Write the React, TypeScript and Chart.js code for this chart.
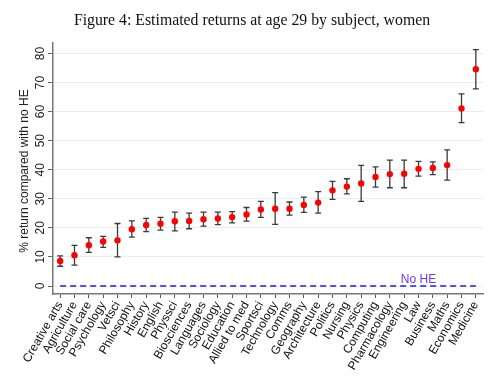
import React, { useEffect, useRef } from "react";
import { Chart, registerables } from "chart.js";

Chart.register(...registerables);

const categories = [
  "Creative arts", "Agriculture", "Social care", "Psychology", "Vetsci", "Philosophy",
  "History", "English", "Physsci", "Biosciences", "Languages", "Sociology", "Education",
  "Allied to med", "Sportsci", "Technology", "Comms", "Geography", "Architecture",
  "Politics", "Nursing", "Physics", "Computing", "Pharmacology", "Engineering", "Law",
  "Business", "Maths", "Economics", "Medicine",
];
const estimates = [8.6, 10.6, 14.0, 15.3, 15.7, 19.5, 21.0, 21.4, 22.3, 22.4, 23.0, 23.2, 23.7, 24.6, 26.3, 26.6, 26.6, 27.9, 28.7, 32.9, 34.2, 35.3, 37.5, 38.5, 38.6, 40.3, 40.6, 41.6, 61.1, 74.6];
const lower = [6.8, 7.2, 11.6, 13.3, 10.0, 16.8, 18.7, 19.2, 19.0, 19.7, 20.6, 21.1, 21.7, 22.3, 23.6, 21.2, 24.4, 25.3, 25.1, 29.8, 31.7, 29.1, 34.0, 33.8, 33.8, 37.8, 38.3, 36.4, 56.2, 67.8];
const upper = [10.4, 14.0, 16.6, 17.1, 21.5, 22.4, 23.3, 23.6, 25.4, 25.1, 25.4, 25.4, 25.6, 27.0, 29.1, 32.1, 28.9, 30.6, 32.5, 36.0, 36.9, 41.5, 41.0, 43.3, 43.3, 42.9, 42.7, 46.8, 66.1, 81.3];
const baseline = categories.map(() => 0);
const yTicks = [0, 10, 20, 30, 40, 50, 60, 70, 80];
const titleText = "Figure 4: Estimated returns at age 29 by subject, women";
const yTitle = "% return compared with no HE";
const baselineLabel = "No HE";
const baselineLabelCategory = "Law";

const SANS = "'Liberation Sans', Arial, sans-serif";

const customPlugin = {
  id: "custom",
  beforeDatasetsDraw(chart: any) {
    const ctx = chart.ctx;
    const x = chart.scales.x;
    const y = chart.scales.y;
    ctx.save();
    ctx.strokeStyle = "#3a3a3a";
    ctx.lineWidth = 1.3;
    const cap = 3;
    categories.forEach((c, i) => {
      const px = x.getPixelForValue(i);
      const yl = y.getPixelForValue(lower[i]);
      const yh = y.getPixelForValue(upper[i]);
      ctx.beginPath();
      ctx.moveTo(px, yl);
      ctx.lineTo(px, yh);
      ctx.moveTo(px - cap, yl);
      ctx.lineTo(px + cap, yl);
      ctx.moveTo(px - cap, yh);
      ctx.lineTo(px + cap, yh);
      ctx.stroke();
    });
    ctx.restore();
  },
  afterDraw(chart: any) {
    const ctx = chart.ctx;
    const x = chart.scales.x;
    const y = chart.scales.y;
    ctx.save();
    // title
    ctx.fillStyle = "#111";
    ctx.font = "15.8px 'Liberation Serif', 'Times New Roman', serif";
    ctx.textAlign = "center";
    ctx.textBaseline = "alphabetic";
    ctx.fillText(titleText, 252, 25);
    // y tick labels rotated
    ctx.font = "12px " + SANS;
    ctx.fillStyle = "#222";
    yTicks.forEach((v) => {
      const py = y.getPixelForValue(v);
      ctx.save();
      ctx.translate(44, py);
      ctx.rotate(-Math.PI / 2);
      ctx.textAlign = "center";
      ctx.textBaseline = "alphabetic";
      ctx.fillText(String(v), 0, 0);
      ctx.restore();
    });
    // y title
    ctx.save();
    ctx.font = "12px " + SANS;
    ctx.translate(28, (y.top + y.bottom) / 2 + 2.5);
    ctx.rotate(-Math.PI / 2);
    ctx.textAlign = "center";
    ctx.textBaseline = "alphabetic";
    ctx.fillText(yTitle, 0, 0);
    ctx.restore();
    // No HE label
    const li = categories.indexOf(baselineLabelCategory);
    ctx.font = "12px " + SANS;
    ctx.fillStyle = "#6a3cf0";
    ctx.textAlign = "center";
    ctx.textBaseline = "alphabetic";
    ctx.fillText(baselineLabel, x.getPixelForValue(li), y.getPixelForValue(0) - 3);
    ctx.restore();
  },
};

export default function App() {
  const ref = useRef<HTMLCanvasElement>(null);
  useEffect(() => {
    document.body.style.margin = "0";
    const chart = new Chart(ref.current as HTMLCanvasElement, {
      type: "line",
      data: {
        labels: categories,
        datasets: [
          {
            data: baseline,
            borderColor: "#1a1aff",
            borderWidth: 1.5,
            borderDash: [6, 4],
            pointRadius: 0,
            fill: false,
          },
          {
            data: estimates,
            showLine: false,
            pointRadius: 3.2,
            pointBackgroundColor: "#ff0000",
            pointBorderColor: "#ff0000",
            pointBorderWidth: 0,
          },
        ],
      },
      options: {
        responsive: false,
        animation: false,
        layout: { padding: { top: 43, right: 17, left: 0, bottom: 0 } },
        plugins: { legend: { display: false }, tooltip: { enabled: false }, title: { display: false } },
        scales: {
          x: {
            type: "category",
            offset: true,
            grid: { display: true, drawOnChartArea: false, drawTicks: true, tickLength: 4, color: "#555" },
            border: { display: true, color: "#777", width: 1.5 },
            ticks: {
              autoSkip: false,
              minRotation: 60,
              maxRotation: 60,
              padding: 1,
              color: "#111",
              font: { family: SANS, size: 12 },
            },
            afterFit: (s: any) => {
              s.height = 98;
            },
          },
          y: {
            min: -2.75,
            max: 83.6,
            afterBuildTicks: (s: any) => {
              s.ticks = yTicks.map((v) => ({ value: v }));
            },
            grid: { color: "#e6eef0", lineWidth: 1, tickLength: 5, tickColor: "#666", drawTicks: true },
            border: { display: true, color: "#777", width: 1.5 },
            ticks: { display: false },
            afterFit: (s: any) => {
              s.width = 53;
            },
          },
        },
      },
      plugins: [customPlugin],
    });
    return () => chart.destroy();
  }, []);
  return (
    <div style={{ position: "absolute", left: 0, top: 0, width: 500, height: 392, background: "#fff" }}>
      <canvas ref={ref} width={500} height={392} />
    </div>
  );
}
